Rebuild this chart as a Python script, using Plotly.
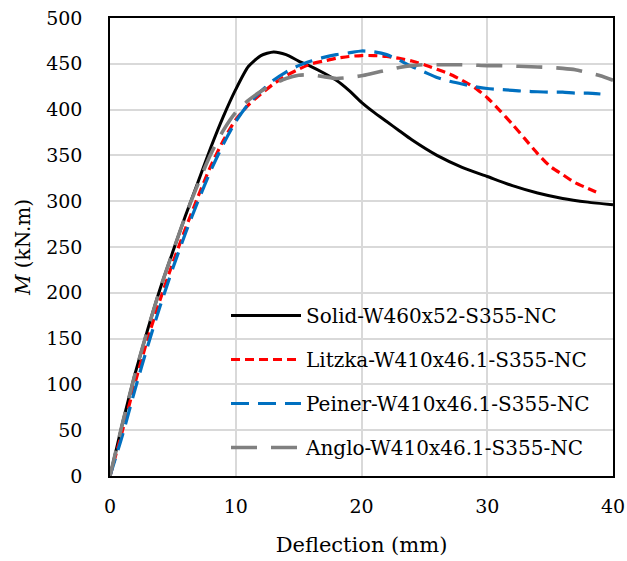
import plotly.graph_objects as go

# Moment–deflection responses (deflection in mm, moment in kN.m)
solid_x = [0, 1, 2, 3, 4, 5, 6, 7, 8, 9, 10, 11, 12, 13, 14, 15, 16, 17, 18, 19, 20,
           21, 22, 23, 24, 26, 28, 30, 32, 34, 36, 38, 40]
solid_m = [0, 58, 112, 160, 205, 245, 284, 321, 358, 392, 422, 447, 459, 463, 460, 453,
           447, 440, 432, 421, 408, 397, 387, 377, 367, 350, 337, 327, 317, 309, 303, 299, 296]

litzka_x = list(range(0, 40))
litzka_m = [0, 50, 102, 150, 193, 233, 270, 305, 338, 366, 389, 405, 417, 428, 437, 444,
            450, 453, 456, 458, 459, 459, 458, 456, 453, 449, 444, 439, 432, 424, 413,
            399, 384, 368, 352, 338, 329, 320, 314, 308]

peiner_x = list(range(0, 40))
peiner_m = [0, 45, 95, 142, 186, 227, 265, 300, 333, 362, 387, 406, 420, 432, 441, 448,
            453, 457, 460, 462, 464, 463, 460, 454, 447, 441, 435, 431, 428, 425, 423,
            422, 421, 420, 419.5, 419, 419, 418, 418, 417]

anglo_x = list(range(0, 41))
anglo_m = [0, 58, 112, 160, 205, 245, 284, 319, 351, 377, 397, 410, 420, 428, 434, 437.5,
           438, 436, 434, 435, 437, 440, 443, 446, 448, 449, 449, 449, 449, 448.5, 448,
           448, 447.5, 447, 446.5, 446, 445, 443.5, 440.5, 437, 432]

names = ["Solid-W460x52-S355-NC", "Litzka-W410x46.1-S355-NC",
         "Peiner-W410x46.1-S355-NC", "Anglo-W410x46.1-S355-NC"]

x_ticks = [0, 10, 20, 30, 40]
y_ticks = [0, 50, 100, 150, 200, 250, 300, 350, 400, 450, 500]

FONT = "DejaVu Serif"

series = [
    (solid_x, solid_m, "black", "solid", 3),
    (litzka_x, litzka_m, "#ff0000", "9px,5px", 3.2),
    (peiner_x, peiner_m, "#0070c0", "18px,9px", 3.2),
    (anglo_x, anglo_m, "#808080", "26px,14px", 3.6),
]

fig = go.Figure()
for i, (xs, ms, color, dash, w) in enumerate(series):
    fig.add_trace(go.Scatter(
        x=xs, y=ms, mode="lines", name=names[i], legendgroup=str(i),
        line=dict(color=color, dash=dash, width=w, shape="spline", smoothing=0.6),
    ))

# white panel behind the legend, covering the gridlines
fig.add_shape(type="rect", xref="paper", yref="paper", layer="between",
              x0=(199 - 110) / 503, x1=(608 - 110) / 503,
              y0=(476 - 472) / 458, y1=(476 - 295) / 458,
              fillcolor="white", line=dict(width=0))

axis_common = dict(
    showgrid=True, gridcolor="#d9d9d9", gridwidth=1.5,
    showline=True, linecolor="black", linewidth=1.5, mirror=True,
    zeroline=False, ticks="", automargin=False,
    tickfont=dict(family=FONT, size=19, color="black"),
)

fig.update_layout(
    width=627, height=561,
    margin=dict(l=110, r=14, t=18, b=85),
    paper_bgcolor="white", plot_bgcolor="white",
    font=dict(family=FONT, size=19, color="black"),
    xaxis=dict(range=[0, 40], tickvals=x_ticks, ticklabelstandoff=12,
               title=dict(text="Deflection (mm)", font=dict(family=FONT, size=21), standoff=22),
               **axis_common),
    yaxis=dict(range=[0, 500], tickvals=y_ticks, ticklabelstandoff=22,
               title=dict(text="<i>M</i> (kN.m)", font=dict(family=FONT, size=20), standoff=10),
               **axis_common),
    legend=dict(x=(226 - 110) / 503, y=(476 - 296) / 458, xanchor="left", yanchor="top",
                bgcolor="rgba(0,0,0,0)", borderwidth=0, itemwidth=70,
                tracegroupgap=15, font=dict(family=FONT, size=20)),
    showlegend=True,
)

fig.write_html("out.html")
